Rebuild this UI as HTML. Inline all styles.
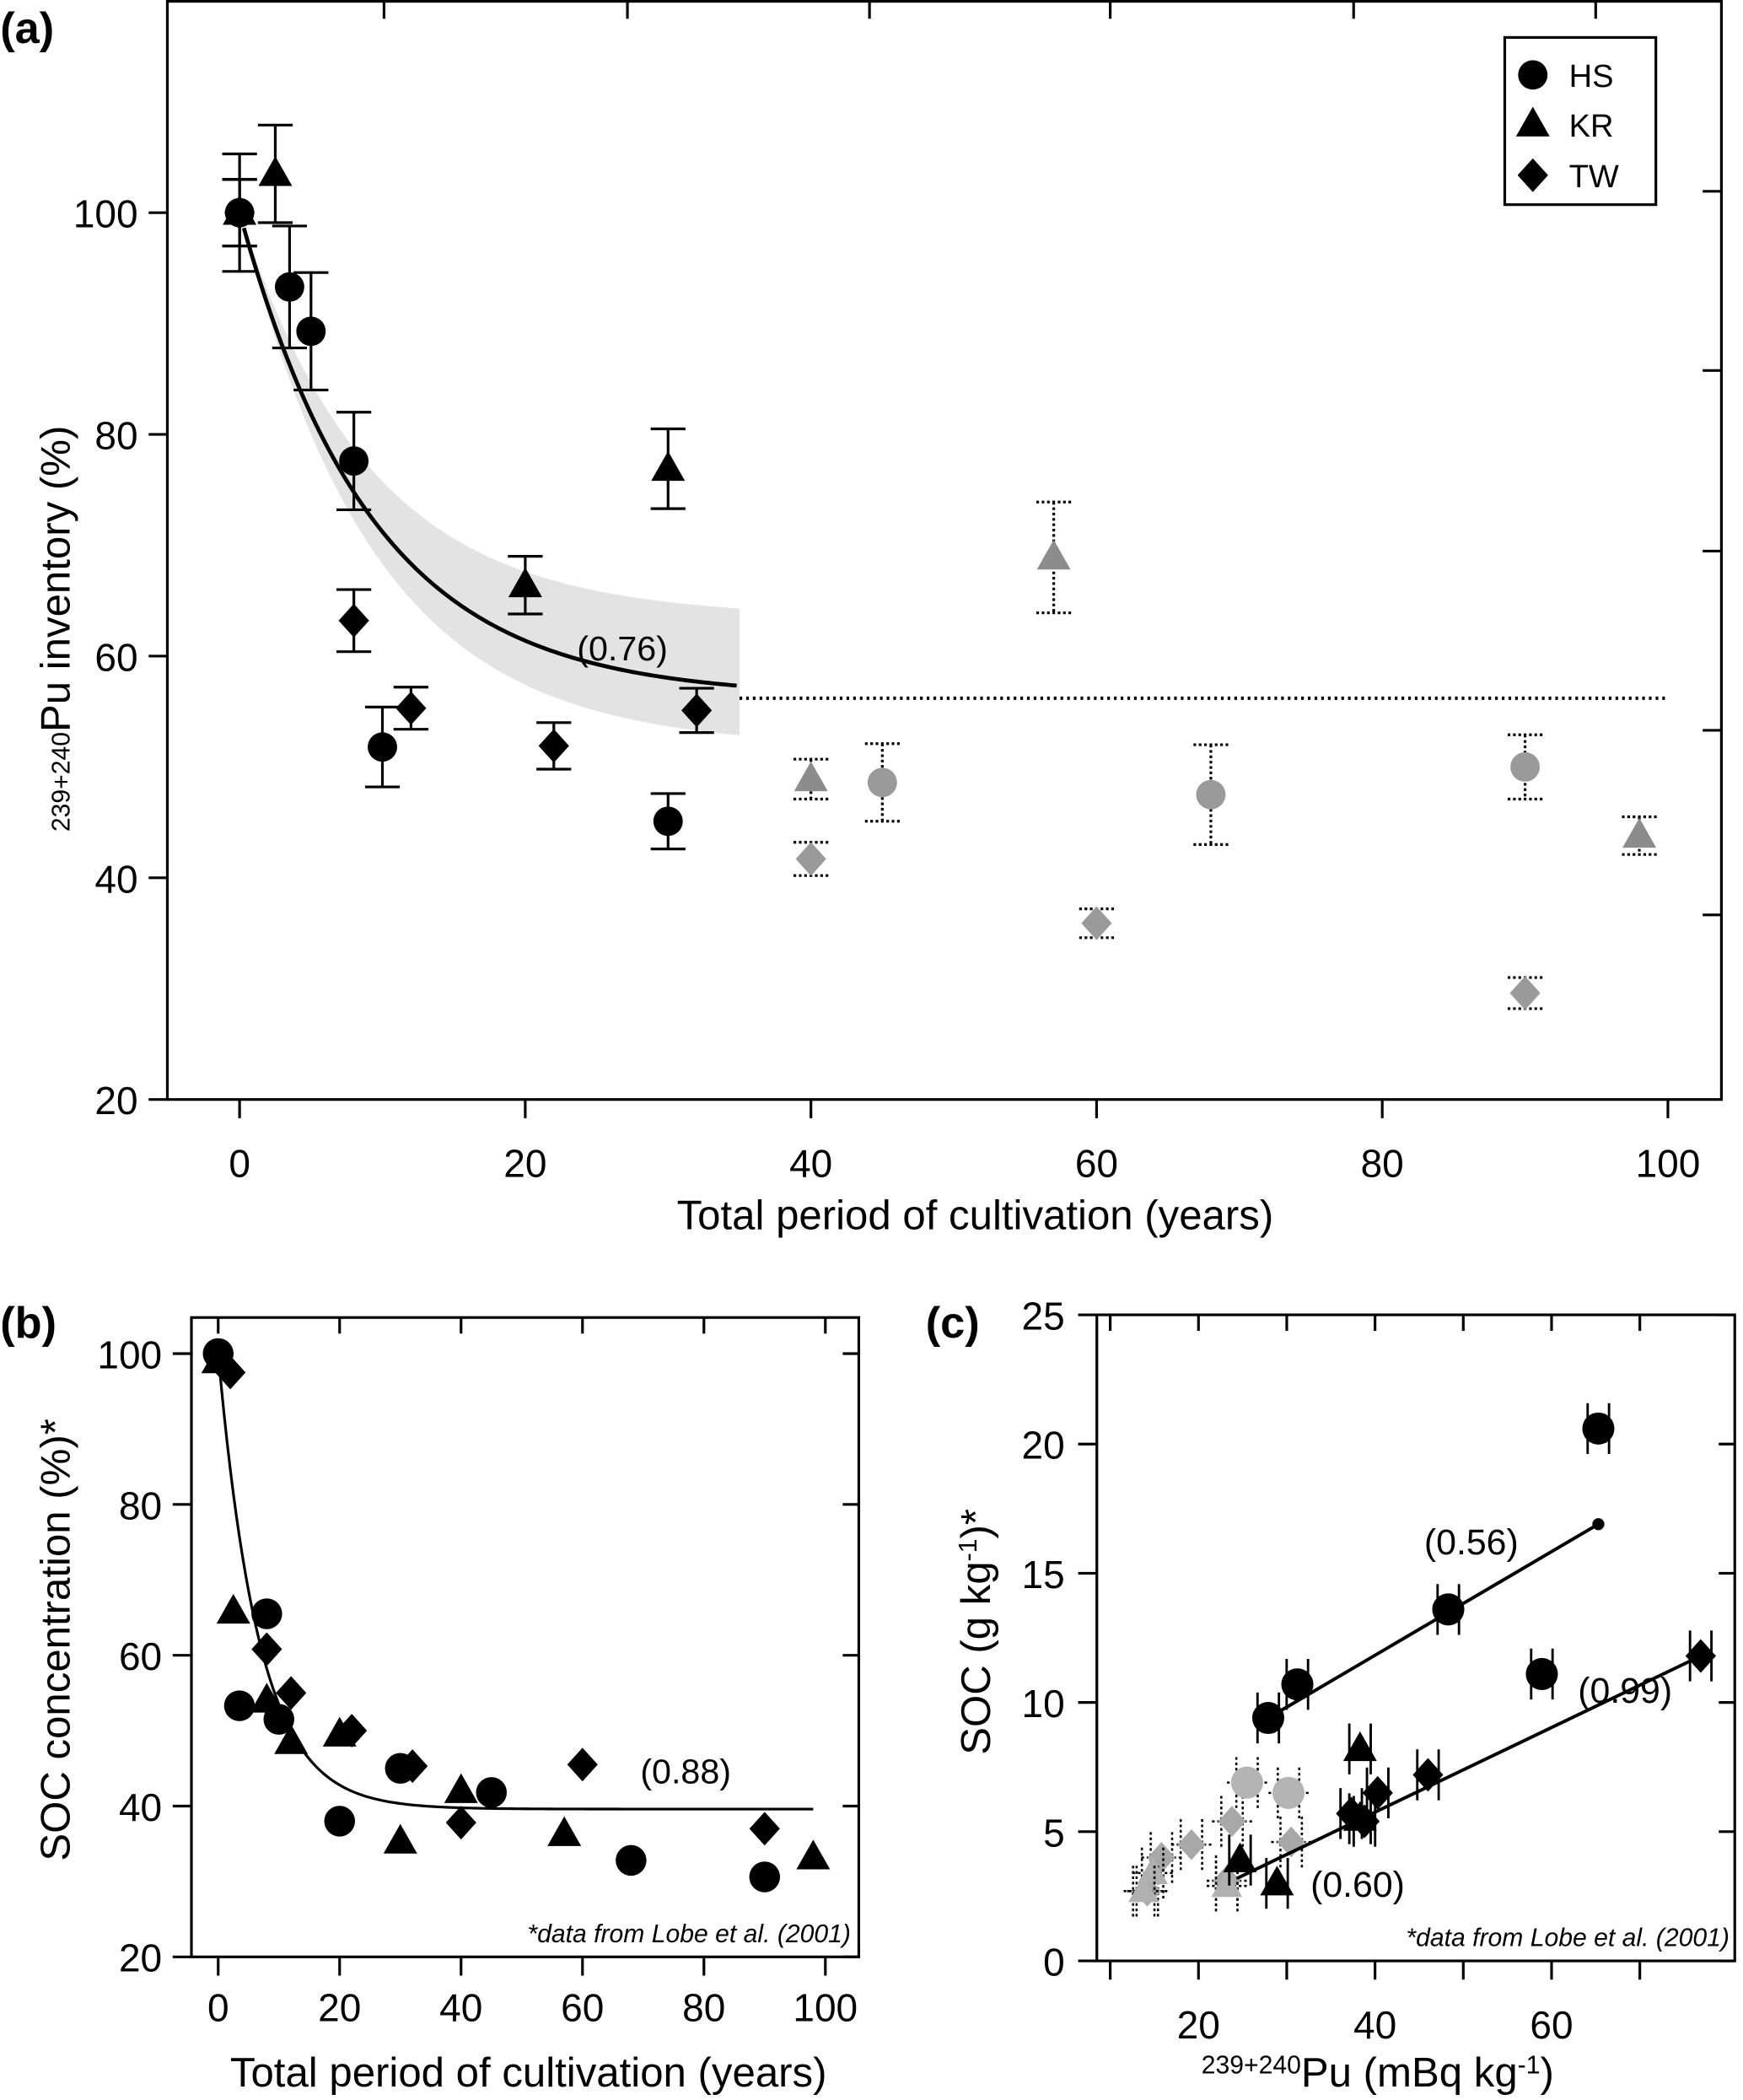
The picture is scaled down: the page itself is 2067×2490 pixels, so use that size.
<!DOCTYPE html>
<html><head><meta charset="utf-8"><style>html,body{margin:0;padding:0;background:#fff}svg{display:block}text{font-family:"Liberation Sans",sans-serif}</style></head>
<body>
<svg id="fig" xmlns="http://www.w3.org/2000/svg" width="2067" height="2490" viewBox="0 0 1303 1570">
<rect width="1303" height="1570" fill="#fff"/>
<g id="ga"></g>
<g id="gb"></g>
<g id="gc"></g>
</svg>
<script>
// ---------- Panel (a) data ----------
const aHSx=[0,3.5,5,8,10,30];
const aHSy=[100,93.3,89.3,77.6,51.8,45.1];
const aHSe=[5.3,5.5,5.3,4.4,3.6,2.5];
const aKRx=[0,2.5,20,30];
const aKRy=[100,103.5,66.4,76.9];
const aKRe=[3,4.4,2.6,3.6];
const aTWx=[0,8,12,22,32];
const aTWy=[100,63.2,55.3,51.9,55.1];
const aTWe=[3,2.8,1.9,2.1,2];
const aGHSx=[45,68,90];
const aGHSy=[48.6,47.5,50];
const aGHSe=[3.5,4.5,2.9];
const aGKRx=[40,57,98];
const aGKRy=[48.9,68.9,43.8];
const aGKRe=[1.8,5,1.7];
const aGTWx=[40,60,90];
const aGTWy=[41.7,35.9,29.6];
const aGTWe=[1.5,1.3,1.4];
const aXTicks=[0,20,40,60,80,100];
const aYTicks=[20,40,60,80,100];
// ---------- Panel (b) data ----------
const bHSx=[0,3.5,8,10,20,30,45,68,90];
const bHSy=[100,53.3,65.5,51.5,38,45,41.8,32.8,30.6];
const bKRx=[0,2.5,8,12,20,30,40,57,98];
const bKRy=[99,65.8,54,48.5,49.5,35.3,42,36.3,33.2];
const bTWx=[2,8,12,22,32,40,60,90];
const bTWy=[97.5,60.8,55,50,45.3,37.8,45.5,37];
const bXTicks=[0,20,40,60,80,100];
const bYTicks=[20,40,60,80,100];
// ---------- Panel (c) data ----------
const cHSx=[27.9,31.2,48.3,58.9,65.3];
const cHSy=[9.4,10.7,13.6,11.1,20.6];
const cKRx=[24.7,28.9,38.3,38.3];
const cKRy=[3.9,3.0,8.2,5.5];
const cTWx=[37.3,38.8,40.3,46,76.9];
const cTWy=[5.7,5.4,6.5,7.2,11.8];
const cGHSx=[25.5,30.2];
const cGHSy=[6.9,6.5];
const cGKRx=[14.8,13.8,23.2];
const cGKRy=[3.4,2.7,2.9];
const cGTWx=[23.8,19.2,30.5,15.8,14.2,23.2];
const cGTWy=[5.4,4.5,4.6,4.0,2.7,3.1];
const cXTicks=[20,40,60];
const cYTicks=[0,5,10,15,20,25];

const NS="http://www.w3.org/2000/svg";
function el(p,t,a){const e=document.createElementNS(NS,t);for(const k in a)e.setAttribute(k,a[k]);p.appendChild(e);return e;}
function marker(g,shape,cx,cy,s,fill){
  let m;
  if(shape==='c'){m=el(g,'circle',{cx:cx,cy:cy,r:s,fill:fill});}
  else if(shape==='t'){m=el(g,'polygon',{points:`${cx},${cy-s*1.1} ${cx-s*1.05},${cy+s*0.75} ${cx+s*1.05},${cy+s*0.75}`,fill:fill});}
  else {m=el(g,'polygon',{points:`${cx},${cy-s*1.05} ${cx+s*0.95},${cy} ${cx},${cy+s*1.05} ${cx-s*0.95},${cy}`,fill:fill});}
  
  
  return m;
}
function txt(g,x,y,s,opt){const t=el(g,'text',Object.assign({x:x,y:y},opt||{}));t.textContent=s;return t;}

// ===== Panel A =====
(function(){
const g=document.getElementById('ga');
const X=v=>179+v*10.68, Y=v=>822-(v-20)*8.2875;
const L=125,R=1287,T=0,B=822;
const curve=t=>56.3+43.7*Math.exp(-t/9.3);
const up=[],lo=[];
for(let t=0;t<=35;t+=0.5){const w=1-Math.exp(-t/10);up.push([X(t),Y(curve(t)+7.2*w)]);lo.push([X(t),Y(curve(t)-4.6*w)]);}
const band=el(g,'polygon',{points:up.concat(lo.reverse()).map(p=>p.join(',')).join(' '),fill:'#e3e3e3'});


let d='';for(let t=0.3;t<=35;t+=0.25){d+=(d?'L':'M')+X(t)+','+Y(curve(t));}
const fit=el(g,'path',{d:d,fill:'none',stroke:'#000','stroke-width':3});


const ext=el(g,'line',{x1:X(35),y1:Y(56.2),x2:X(100),y2:Y(56.2),stroke:'#000','stroke-width':2.5,'stroke-dasharray':'2,3'});


const r2=txt(g,X(26.8),Y(59.6),'(0.76)',{'font-size':26,'text-anchor':'middle'});


function series(xs,ys,es,shape,fill,dotted){
  for(let i=0;i<xs.length;i++){
    const cx=X(xs[i]),cy=Y(ys[i]),y1=Y(ys[i]+es[i]),y2=Y(ys[i]-es[i]);
    const st={stroke:'#000','stroke-width':2};if(dotted)st['stroke-dasharray']='2,2';
    const eb=el(g,'path',Object.assign({d:`M${cx},${y1}V${y2}M${cx-13},${y1}H${cx+13}M${cx-13},${y2}H${cx+13}`,fill:'none'},st));
    
    
    marker(g,shape,cx,cy,shape==='c'?11:12,fill);
  }
}
series(aGKRx,aGKRy,aGKRe,'t','#8c8c8c',true);
series(aGHSx,aGHSy,aGHSe,'c','#9a9a9a',true);
series(aGTWx,aGTWy,aGTWe,'d','#9a9a9a',true);
series(aTWx,aTWy,aTWe,'d','#000',false);
series(aKRx,aKRy,aKRe,'t','#000',false);
series(aHSx,aHSy,aHSe,'c','#000',false);
const box=el(g,'rect',{x:L,y:T+1,width:R-L,height:B-T-1,fill:'none',stroke:'#000','stroke-width':2});


aXTicks.forEach(v=>{el(g,'line',{x1:X(v),y1:B,x2:X(v),y2:B+14,stroke:'#000','stroke-width':2});
  const t=txt(g,X(v),B+58,String(v),{'font-size':29,'text-anchor':'middle'});
  
  });
aYTicks.forEach(v=>{el(g,'line',{x1:L,y1:Y(v),x2:L-14,y2:Y(v),stroke:'#000','stroke-width':2});
  const t=txt(g,L-22,Y(v)+11,String(v),{'font-size':29,'text-anchor':'end'});
  
  });
[287,469,650,830,1012,1193].forEach(x=>el(g,'line',{x1:x,y1:0,x2:x,y2:14,stroke:'#000','stroke-width':2}));
[143,277,412,546,684].forEach(y=>el(g,'line',{x1:R,y1:y,x2:R-14,y2:y,stroke:'#000','stroke-width':2}));
const xt=txt(g,729,919,'Total period of cultivation (years)',{'font-size':31,'text-anchor':'middle'});


const yt=el(g,'text',{x:0,y:0,transform:'translate(52,470) rotate(-90)','font-size':31,'text-anchor':'middle'});
yt.innerHTML='<tspan font-size="19" dy="0">239+240</tspan><tspan dy="0">Pu inventory (%)</tspan>';


const pl=txt(g,0,32,'(a)',{'font-size':33,'font-weight':'bold'});


const lg=el(g,'g',{});


el(lg,'rect',{x:1125,y:28,width:113,height:125,fill:'#fff',stroke:'#000','stroke-width':2});
[['c','HS',56],['t','KR',93],['d','TW',131]].forEach(a=>{const e=el(lg,'g',{});
  
  
  marker(e,a[0],1146,a[2],a[0]==='c'?11:12,'#000');txt(e,1173,a[2]+9,a[1],{'font-size':24});});
})();

// ===== Panel B =====
(function(){
const g=document.getElementById('gb');
const X=v=>163+v*4.54, Y=v=>1463-(v-20)*5.6375;
const L=143,R=642,T=985,B=1463;
let d='';for(let t=0;t<=98;t+=0.5){d+=(d?'L':'M')+X(t)+','+Y(39.6+60.4*Math.exp(-t/6.8));}
const fit=el(g,'path',{d:d,fill:'none',stroke:'#000','stroke-width':2});


const r2=txt(g,X(77),Y(43),'(0.88)',{'font-size':26,'text-anchor':'middle'});


bTWx.forEach((x,i)=>marker(g,'d',X(x),Y(bTWy[i]),12,'#000'));
bKRx.forEach((x,i)=>marker(g,'t',X(x),Y(bKRy[i]),12,'#000'));
bHSx.forEach((x,i)=>marker(g,'c',X(x),Y(bHSy[i]),11.5,'#000'));
const box=el(g,'rect',{x:L,y:T,width:R-L,height:B-T,fill:'none',stroke:'#000','stroke-width':2});


bXTicks.forEach(v=>{el(g,'line',{x1:X(v),y1:B,x2:X(v),y2:B+14,stroke:'#000','stroke-width':2});
  el(g,'line',{x1:X(v),y1:T,x2:X(v),y2:T+12,stroke:'#000','stroke-width':2});
  const t=txt(g,X(v),B+48,String(v),{'font-size':29,'text-anchor':'middle'});
  
  });
bYTicks.forEach(v=>{el(g,'line',{x1:L,y1:Y(v),x2:L-14,y2:Y(v),stroke:'#000','stroke-width':2});
  el(g,'line',{x1:R,y1:Y(v),x2:R-12,y2:Y(v),stroke:'#000','stroke-width':2});
  const t=txt(g,L-22,Y(v)+11,String(v),{'font-size':29,'text-anchor':'end'});
  
  });
const fn=txt(g,R-6,B-11,'*data from Lobe et al. (2001)',{'font-size':19,'font-style':'italic','text-anchor':'end'});


const xt=txt(g,395,1560,'Total period of cultivation (years)',{'font-size':31,'text-anchor':'middle'});


const yt=txt(g,0,0,'SOC concentration (%)*',{'font-size':31,'text-anchor':'middle',transform:'translate(52,1226) rotate(-90)'});


const pl=txt(g,0,1000,'(b)',{'font-size':33,'font-weight':'bold'});


})();

// ===== Panel C =====
(function(){
const g=document.getElementById('gc');
const X=v=>896+(v-20)*6.6, Y=v=>1466-v*19.32;
const L=820,R=1297,T=983,B=1466;
function pts(xs,ys,shape,fill,dotted,s){
  xs.forEach((x,i)=>{const cx=X(x),cy=Y(ys[i]);
    const st={stroke:'#000','stroke-width':dotted?1.6:1.8,fill:'none'};if(dotted)st['stroke-dasharray']='2,2';
    const eb=el(g,'path',Object.assign({d:`M${cx-8},${cy-19}V${cy+19}M${cx+8},${cy-19}V${cy+19}`+(dotted?`M${cx-15},${cy}H${cx+15}`:'')},st));
    
    
    marker(g,shape,cx,cy,s,fill);});
}
pts(cGTWx,cGTWy,'d','#a8a8a8',true,11);
pts(cGKRx,cGKRy,'t','#b0b0b0',true,11);
pts(cGHSx,cGHSy,'c','#b4b4b4',true,12);
const l1=el(g,'line',{x1:X(27.9),y1:Y(9.4),x2:X(65.3),y2:Y(16.9),stroke:'#000','stroke-width':2.5});


const dot=el(g,'circle',{cx:X(65.3),cy:Y(16.9),r:4.5,fill:'#000'});


const l2=el(g,'line',{x1:X(24.4),y1:Y(3.2),x2:X(76.9),y2:Y(11.8),stroke:'#000','stroke-width':2.5});


pts(cKRx,cKRy,'t','#000',false,12);
pts(cTWx,cTWy,'d','#000',false,12);
pts(cHSx,cHSy,'c','#000',false,12);
[['(0.56)',1100,1162],['(0.99)',1215,1273],['(0.60)',1015,1418]].forEach(a=>{const t=txt(g,a[1],a[2],a[0],{'font-size':27,'text-anchor':'middle'});
  
  });
const box=el(g,'rect',{x:L,y:T,width:R-L,height:B-T,fill:'none',stroke:'#000','stroke-width':2});


[10,20,30,40,50,60,70].forEach(v=>{el(g,'line',{x1:X(v),y1:B,x2:X(v),y2:B+14,stroke:'#000','stroke-width':2});
  el(g,'line',{x1:X(v),y1:T,x2:X(v),y2:T+12,stroke:'#000','stroke-width':2});});
cXTicks.forEach(v=>{const t=txt(g,X(v),B+58,String(v),{'font-size':29,'text-anchor':'middle'});
  
  });
cYTicks.forEach(v=>{el(g,'line',{x1:L,y1:Y(v),x2:L-14,y2:Y(v),stroke:'#000','stroke-width':2});
  el(g,'line',{x1:R,y1:Y(v),x2:R-12,y2:Y(v),stroke:'#000','stroke-width':2});
  const t=txt(g,L-24,Y(v)+11,String(v),{'font-size':29,'text-anchor':'end'});
  
  });
const fn=txt(g,R-4,B-11,'*data from Lobe et al. (2001)',{'font-size':19,'font-style':'italic','text-anchor':'end'});


const xt=el(g,'text',{x:1030,y:1560,'font-size':31,'text-anchor':'middle'});
xt.innerHTML='<tspan font-size="19" dy="-10">239+240</tspan><tspan dy="10">Pu (mBq kg</tspan><tspan font-size="19" dy="-10">-1</tspan><tspan dy="10">)</tspan>';


const yt=el(g,'text',{x:0,y:0,transform:'translate(740,1220) rotate(-90)','font-size':31,'text-anchor':'middle'});
yt.innerHTML='SOC (g kg<tspan font-size="19" dy="-10">-1</tspan><tspan dy="10">)*</tspan>';


const pl=txt(g,692,1000,'(c)',{'font-size':33,'font-weight':'bold'});


})();
</script>
</body></html>
